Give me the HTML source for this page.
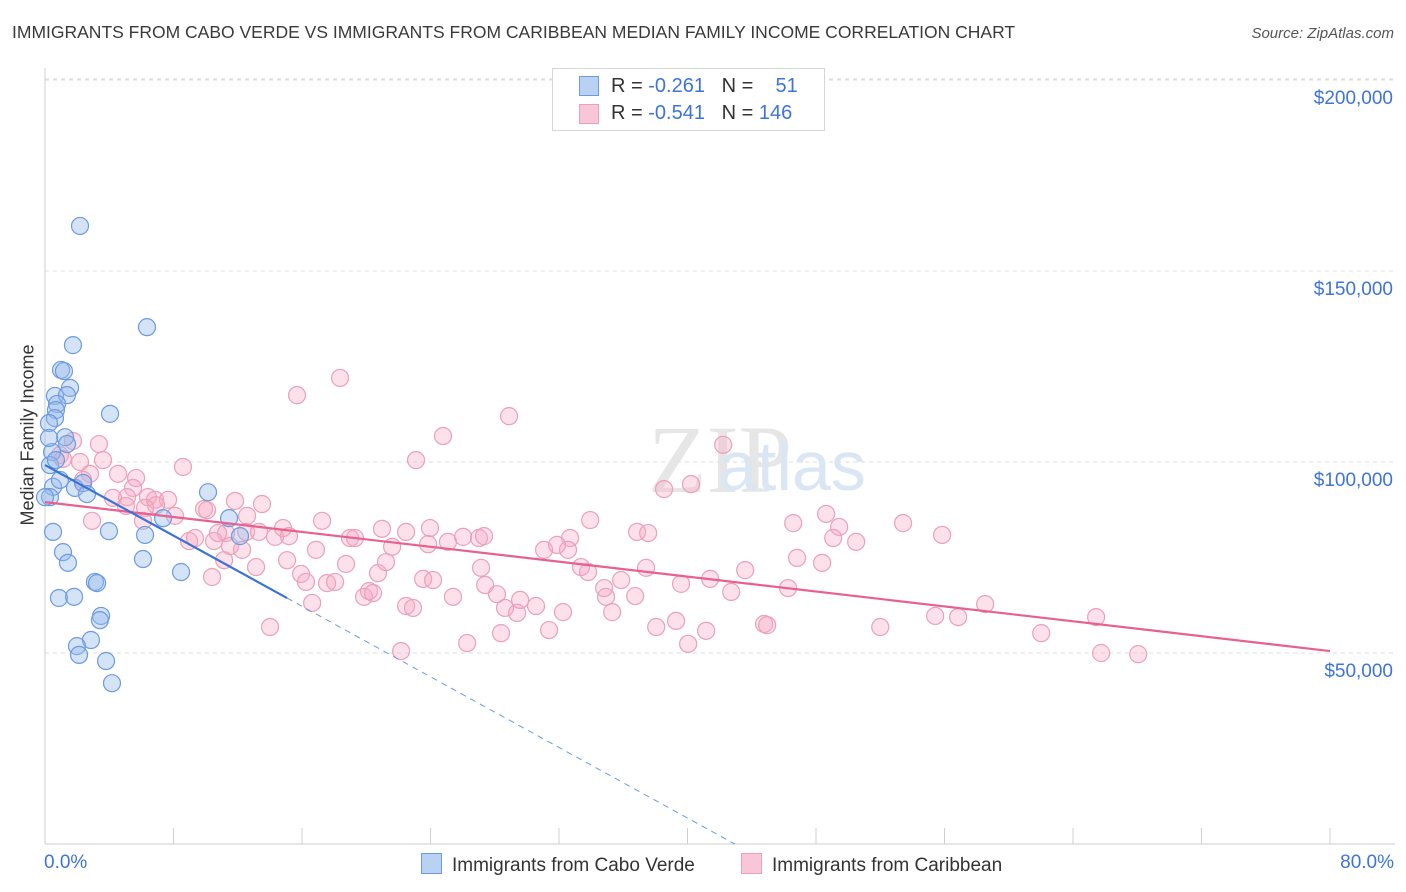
<!DOCTYPE html>
<html><head><meta charset="utf-8">
<style>
body{margin:0;background:#fff;font-family:"Liberation Sans",sans-serif;}
#wrap{position:relative;width:1406px;height:892px;overflow:hidden;}
.t{position:absolute;white-space:nowrap;}
</style></head>
<body>
<div id="wrap">
<div class="t" style="left:12px;top:22px;font-size:17.5px;color:#3a3a3a;">IMMIGRANTS FROM CABO VERDE VS IMMIGRANTS FROM CARIBBEAN MEDIAN FAMILY INCOME CORRELATION CHART</div>
<div class="t" style="right:12px;top:25px;font-size:15px;color:#555;font-style:italic;">Source: ZipAtlas.com</div>
<svg id="chart" width="1406" height="892" style="position:absolute;left:0;top:0"></svg>
</div>
<script>
const blueX=[2.18,6.35,1.74,1.0,1.18,1.56,0.62,1.37,0.75,4.05,0.68,0.62,0.25,1.25,1.37,0.44,0.31,0.5,0.93,1.87,2.37,2.61,10.15,0.31,0.5,3.98,6.23,11.46,12.14,7.35,6.1,8.47,1.12,1.43,3.11,3.24,0.87,1.81,3.49,3.42,2.86,1.99,2.12,3.8,4.17,0,0.68,0.25];
const blueY=[161.8,135.3,130.6,124.1,123.8,119.4,117.3,117.5,115.2,112.6,113.6,111.5,110.2,106.5,104.7,102.6,99.2,93.5,95.3,93.2,94.5,91.6,92.1,90.8,81.7,81.9,80.9,85.3,80.6,85.3,74.6,71.2,76.4,73.6,68.6,68.3,64.4,64.7,59.7,58.6,53.4,51.8,49.5,47.9,42.1,90.8,100.5,106.3];
const pinkX=[18.37,15.69,28.89,24.78,42.22,23.1,8.59,38.54,40.22,3.61,3.36,1.74,0.93,1.12,2.18,2.8,2.37,4.55,5.67,5.48,6.41,6.85,7.66,6.91,5.11,4.23,5.04,6.23,2.93,6.1,8.09,9.9,10.09,11.83,13.51,12.58,11.27,12.52,8.97,9.34,10.52,10.77,11.52,12.27,11.15,13.32,14.32,14.82,15.19,15.07,13.14,10.4,15.94,16.25,16.63,14.01,17.25,16.87,17.56,18.06,18.74,18.99,19.3,19.86,20.17,20.42,20.98,20.73,21.23,21.61,22.48,22.48,22.17,22.91,23.54,24.16,23.97,23.85,25.09,25.4,26.03,27.02,27.33,26.28,27.15,27.4,28.14,28.64,29.39,28.39,29.58,30.57,31.07,31.38,32.25,32.69,33.37,32.56,31.88,33.81,33.94,34.93,35.31,35.87,34.81,36.86,37.55,36.74,37.42,38.05,39.29,39.6,40.04,41.16,41.41,43.59,42.72,44.77,44.96,46.26,46.58,46.82,48.38,48.63,49.44,49.07,50.5,53.42,55.85,55.42,56.85,58.53,62.02,65.44,65.75,68.06,52];
const pinkY=[122,117.5,112,106.8,104.5,100.5,98.7,92.9,94.2,100.5,104.7,105.5,101.8,100.8,100,96.9,95.3,96.9,95.8,93.2,90.8,90.1,90.1,88.7,90.8,90.6,88.5,88,84.6,84.6,85.9,87.7,87.4,89.8,89,85.9,81.4,81.7,79.3,80.1,79.3,81.4,78,77,74.3,81.7,80.4,82.7,80.6,74.3,72.5,69.9,70.7,68.6,63.1,56.8,84.6,77,68.3,68.6,73.3,80.1,80.1,64.7,66.2,65.7,82.5,70.9,73.8,77.8,81.7,62.3,50.5,61.8,69.4,69.1,82.7,78.5,79.1,64.7,80.4,80.1,80.6,52.6,72.3,67.8,65.4,61.8,60.5,55.2,63.9,62.3,77,56,60.7,80.1,72.5,77,78.3,71.2,84.8,64.7,60.7,69.1,67,81.7,81.4,64.9,72.3,56.8,58.4,68.1,52.4,55.8,69.4,71.7,66,57.6,57.3,67,84,74.9,73.6,86.4,83,80.1,79.1,84,80.9,59.7,59.4,62.8,55.2,59.4,50,49.7,56.8];
const blueTrend=[99.2,-2.31];
const pinkTrend=[89.5,-0.4875];
const yTicks=[50,100,150,200];
const yTickLabels=["$50,000","$100,000","$150,000","$200,000"];
const xTicks=[0,8,16,24,32,40,48,56,64,72,80];

const NS="http://www.w3.org/2000/svg";
const svg=document.getElementById('chart');
const X0=45,X1=1330,Y0=844,YS=191/50;
function sx(v){return X0+(v/80)*(X1-X0);}
function sy(v){return Y0-v*YS;}
function mk(tag,attrs,parent){const e=document.createElementNS(NS,tag);for(const k in attrs)e.setAttribute(k,attrs[k]);(parent||svg).appendChild(e);return e;}

// gridlines
yTicks.forEach((v,i)=>{
  const g=mk('line',{x1:X0,x2:1395,y1:sy(v),y2:sy(v),stroke:'#dcdcdc','stroke-dasharray':'4,4','stroke-width':1});
  
  
  const t=mk('text',{x:1393,y:sy(v)+24,'text-anchor':'end','font-size':19,fill:'#3d74d6','font-family':'Liberation Sans, sans-serif'});
  t.textContent=yTickLabels[i];
  
  
});
// top gridline
const tg=mk('line',{x1:X0,x2:1395,y1:79,y2:79,stroke:'#dcdcdc','stroke-dasharray':'4,4'});


// axes
const ya=mk('line',{x1:X0,x2:X0,y1:68,y2:Y0,stroke:'#cfcfcf'});


const xa=mk('line',{x1:X0,x2:1395,y1:Y0,y2:Y0,stroke:'#cfcfcf'});


xTicks.forEach(v=>{
  const t=mk('line',{x1:sx(v),x2:sx(v),y1:Y0,y2:Y0-16,stroke:'#cfcfcf'});
  
  
});
// watermark
const wm=mk('text',{x:720,y:492,'text-anchor':'middle','font-size':96,fill:'#e6e6e6','font-family':'Liberation Serif, serif'});
wm.textContent='ZIP';


const wm2=mk('text',{x:718,y:490,'font-size':70,fill:'#dbe6f5','font-family':'Liberation Sans, sans-serif'});
wm2.textContent='atlas';



// points
pinkX.forEach((x,i)=>{
  const c=mk('circle',{cx:sx(x),cy:sy(pinkY[i]),r:8.5,fill:'rgba(245,170,195,0.35)',stroke:'#eaa0b9','stroke-width':1.2});
  
  
});
blueX.forEach((x,i)=>{
  const c=mk('circle',{cx:sx(x),cy:sy(blueY[i]),r:8.5,fill:'rgba(150,185,235,0.4)',stroke:'#6b9be0','stroke-width':1.2});
  
  
});
// trend lines
const pl=mk('line',{x1:sx(0),y1:sy(pinkTrend[0]),x2:sx(80),y2:sy(pinkTrend[0]+pinkTrend[1]*80),stroke:'#e8608f','stroke-width':2.2});


const bEnd=15.07, bZero=-blueTrend[0]/blueTrend[1];
const bl=mk('line',{x1:sx(0),y1:sy(blueTrend[0]),x2:sx(bEnd),y2:sy(blueTrend[0]+blueTrend[1]*bEnd),stroke:'#3a72d8','stroke-width':2.2});


const bd=mk('line',{x1:sx(bEnd),y1:sy(blueTrend[0]+blueTrend[1]*bEnd),x2:sx(bZero),y2:sy(0),stroke:'#6b9be0','stroke-width':1,'stroke-dasharray':'6,5'});


</script>
<div class="t" style="left:-42px;top:445px;font-size:18px;color:#333;transform:rotate(-90deg);width:140px;text-align:center;">Median Family Income</div>
<div class="t" style="left:44px;top:852px;font-size:19px;color:#3d74d6;">0.0%</div>
<div class="t" style="right:12px;top:852px;font-size:19px;color:#3d74d6;">80.0%</div>
<div style="position:absolute;left:552px;top:68px;width:271px;height:61px;border:1px solid #d6d6d6;background:#fff;font-size:20px;">
  <div style="position:absolute;left:26px;top:7px;width:18px;height:18px;background:#b9d1f3;border:1px solid #6b9be0;"></div>
  <div class="t" style="left:58px;top:6px;color:#333;">R = <span style="color:#3d74d6">-0.261</span>&nbsp;&nbsp;&nbsp;N = &nbsp;&nbsp;&nbsp;<span style="color:#3d74d6">51</span></div>
  <div style="position:absolute;left:26px;top:35px;width:18px;height:18px;background:#f8c6d6;border:1px solid #eaa0b9;"></div>
  <div class="t" style="left:58px;top:33px;color:#333;">R = <span style="color:#3d74d6">-0.541</span>&nbsp;&nbsp;&nbsp;N = <span style="color:#3d74d6">146</span></div>
</div>
<div style="position:absolute;left:421px;top:853px;font-size:19px;color:#333;">
  <span style="display:inline-block;width:19px;height:19px;background:#b9d1f3;border:1px solid #6b9be0;vertical-align:-3px;margin-right:10px;"></span>Immigrants from Cabo Verde</div>
<div style="position:absolute;left:741px;top:853px;font-size:19px;color:#333;">
  <span style="display:inline-block;width:19px;height:19px;background:#f8c6d6;border:1px solid #eaa0b9;vertical-align:-3px;margin-right:10px;"></span>Immigrants from Caribbean</div>
</body></html>
